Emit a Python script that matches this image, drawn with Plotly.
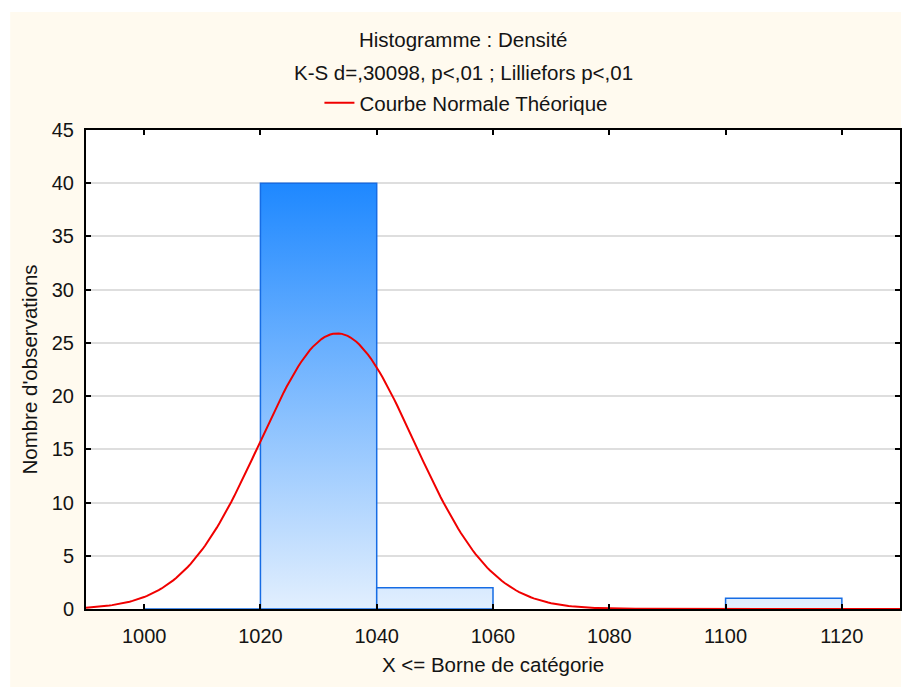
import numpy as np
import plotly.graph_objects as go

# Histogram classes (upper bound X <= borne) and counts
bin_lower = [1000, 1020, 1040, 1100]
bin_upper = [1020, 1040, 1060, 1120]
counts = [0, 40, 2, 1]

# Fitted normal distribution parameters
n_obs = 43
bin_width = 20
mean_val = 1033.2
sd_val = 13.25

x_ticks = [1000, 1020, 1040, 1060, 1080, 1100, 1120]
y_ticks = [0, 5, 10, 15, 20, 25, 30, 35, 40, 45]

FONT = "Liberation Sans, Arial, sans-serif"
FS = 20.5
FS_TICK = 20
CREAM = "rgb(255,250,239)"

fig = go.Figure()

# Bars drawn as filled outlines so each one can carry a vertical gradient
for lo, hi, c in zip(bin_lower, bin_upper, counts):
    fig.add_trace(go.Scatter(
        x=[lo, lo, hi, hi, lo],
        y=[0, c, c, 0, 0],
        mode="lines",
        fill="toself",
        fillgradient=dict(
            type="vertical",
            colorscale=[[0, "rgb(226,239,254)"], [1, "rgb(30,136,255)"]],
            start=0,
            stop=40,
        ),
        line=dict(color="rgb(22,108,228)", width=1.5),
        showlegend=False,
        hoverinfo="skip",
    ))

# Theoretical normal curve scaled to counts per class
xc = np.arange(990, 1130.01, 0.5)
yc = n_obs * bin_width / (sd_val * np.sqrt(2 * np.pi)) * np.exp(-0.5 * ((xc - mean_val) / sd_val) ** 2)
fig.add_trace(go.Scatter(
    x=xc, y=yc, mode="lines",
    line=dict(color="rgb(240,0,0)", width=2),
    name="Courbe Normale Théorique",
))

W, H = 902, 687
ml, mr, mt, mb = 86, 0, 130, 78
pw, ph = W - ml - mr, H - mt - mb

def px_x(p):
    return (p - ml) / pw

def px_y(p):
    return (H - mb - p) / ph

fig.update_layout(
    width=W, height=H,
    margin=dict(l=ml, r=mr, t=mt, b=mb),
    paper_bgcolor="white",
    plot_bgcolor="white",
    font=dict(family=FONT, size=FS, color="rgb(20,20,20)"),
    shapes=[
        dict(type="rect", xref="paper", yref="paper", layer="below",
             x0=px_x(10), x1=px_x(903), y0=px_y(687), y1=px_y(12),
             fillcolor=CREAM, line=dict(width=0)),
        dict(type="rect", xref="paper", yref="paper", layer="below",
             x0=0, x1=1, y0=0, y1=1,
             fillcolor="white", line=dict(width=0)),
    ],
    annotations=[
        dict(text="Histogramme : Densité", xref="paper", yref="paper",
             x=px_x(464), y=px_y(40), showarrow=False,
             xanchor="center", yanchor="middle", font=dict(size=FS)),
        dict(text="K-S d=,30098, p<,01 ; Lilliefors p<,01", xref="paper", yref="paper",
             x=px_x(464), y=px_y(72), showarrow=False,
             xanchor="center", yanchor="middle", font=dict(size=FS)),
    ],
    legend=dict(
        orientation="h", x=px_x(320), y=px_y(103),
        xanchor="left", yanchor="middle",
        bgcolor="rgba(0,0,0,0)", font=dict(size=FS),
    ),
    xaxis=dict(
        range=[990, 1130], tickvals=x_ticks,
        ticks="inside", ticklen=5, tickwidth=2, tickcolor="black",
        showline=True, linecolor="black", linewidth=2, mirror="ticks",
        showgrid=False, zeroline=False,
        ticklabelstandoff=8,
        title=dict(text="X <= Borne de catégorie", standoff=12, font=dict(size=FS)),
        tickfont=dict(size=FS_TICK),
    ),
    yaxis=dict(
        range=[0, 45], tickvals=y_ticks,
        ticks="inside", ticklen=5, tickwidth=2, tickcolor="black",
        showline=True, linecolor="black", linewidth=2, mirror="ticks",
        showgrid=True, gridcolor="rgb(222,222,222)", gridwidth=1.5,
        zeroline=False,
        ticklabelstandoff=6,
        title=dict(text="Nombre d'observations", standoff=9, font=dict(size=FS)),
        tickfont=dict(size=FS_TICK),
    ),
)

fig.write_html("out.html")
